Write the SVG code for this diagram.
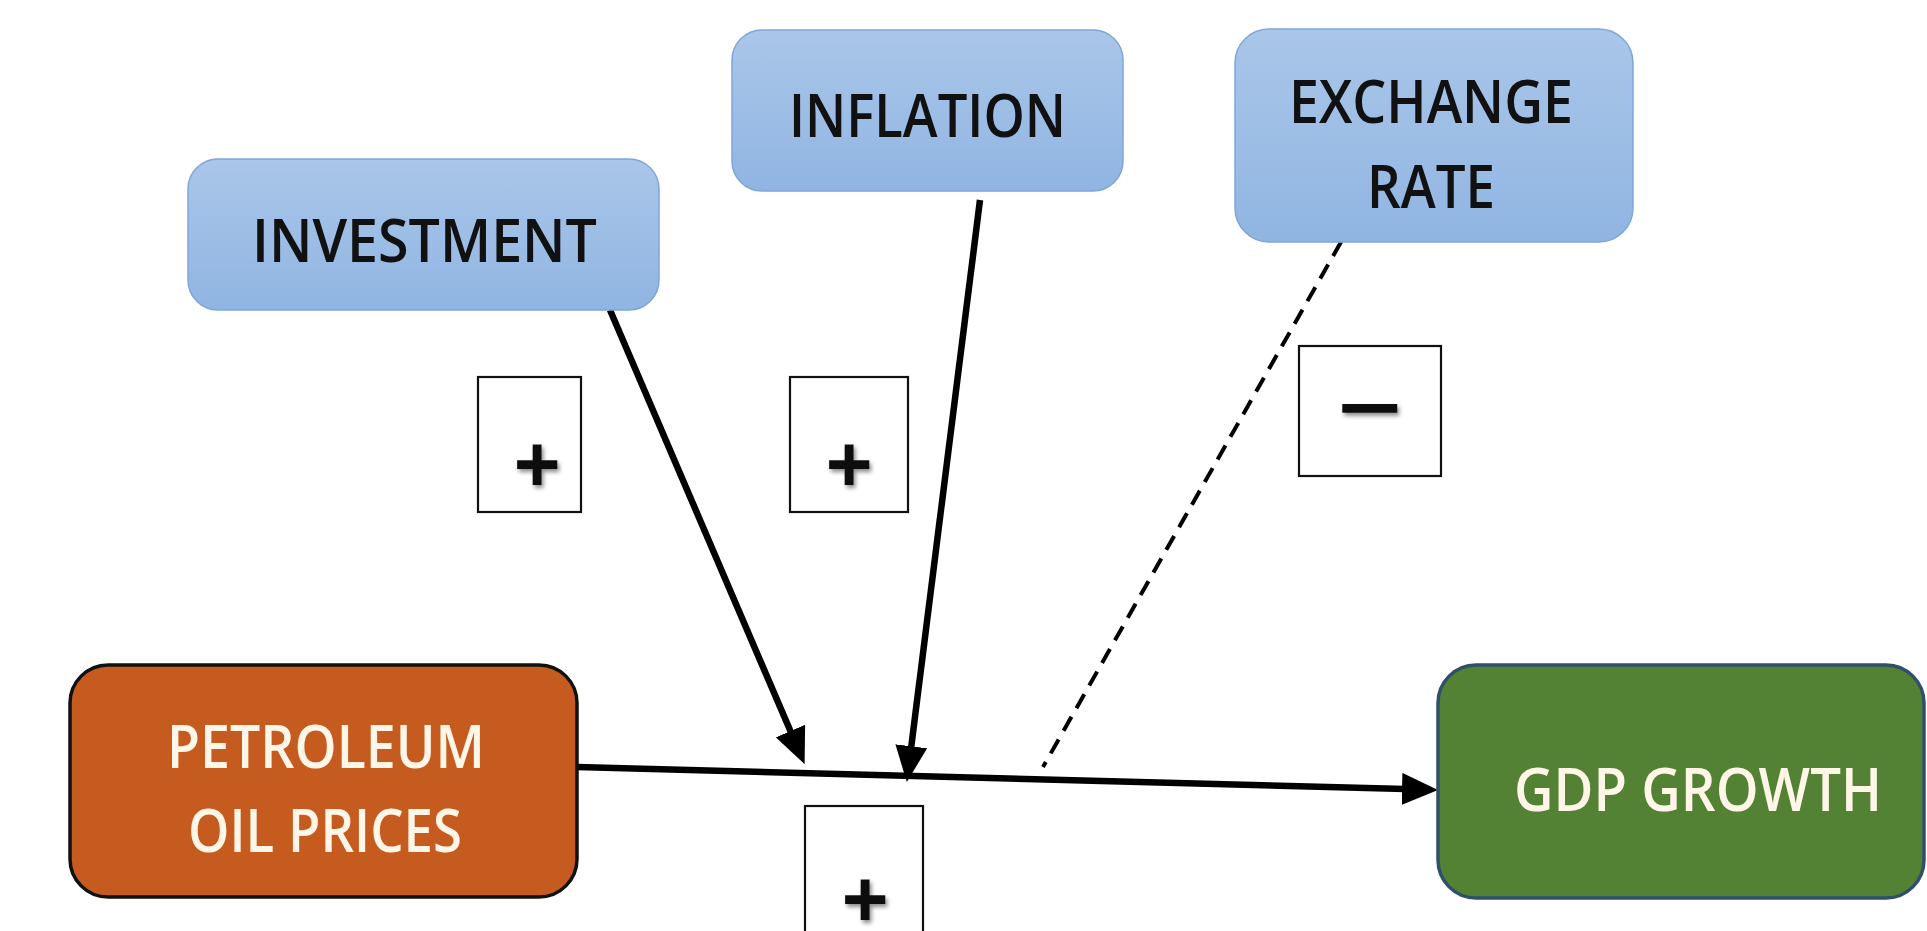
<svg xmlns="http://www.w3.org/2000/svg" width="1927" height="931" viewBox="0 0 1927 931">
<style>
.blue{fill:url(#blueGrad);stroke:#7EA6D8;stroke-width:1.5}
.lbl{font-family:"Open Sans","Liberation Sans",sans-serif;font-size:60px;font-weight:600;text-anchor:middle}
.dark{fill:#111}
.light{fill:#FFF6E8}
.sign{fill:#fff;stroke:#111;stroke-width:2.2}
.sym{font-family:"Liberation Sans",Arial,sans-serif;font-weight:bold;font-size:80px;text-anchor:middle;fill:#111;filter:url(#shadow)}
.con{stroke:#000;stroke-width:6.5;fill:none}
</style>
<defs>
<linearGradient id="blueGrad" x1="0" y1="0" x2="0" y2="1">
<stop offset="0" stop-color="#AAC6E9"/>
<stop offset="1" stop-color="#90B5E2"/>
</linearGradient>
<marker id="arrow" viewBox="0 0 36 32" refX="3" refY="16" markerWidth="36" markerHeight="32" markerUnits="userSpaceOnUse" orient="auto">
<path d="M0,0 L36,16 L0,32 z" fill="#000"/>
</marker>
<filter id="shadow" x="-50%" y="-50%" width="200%" height="200%">
<feDropShadow dx="2" dy="3" stdDeviation="2" flood-color="#000" flood-opacity="0.45"/>
</filter>
</defs>
<rect width="1927" height="931" fill="#fff"/>

<g id="connectors">
<line class="con" x1="577" y1="767" x2="1405" y2="789" marker-end="url(#arrow)"/>
<line class="con" x1="610" y1="310" x2="791.6" y2="733.8" marker-end="url(#arrow)"/>
<line class="con" x1="980" y1="200" x2="910.9" y2="749.3" marker-end="url(#arrow)"/>
<line x1="1341" y1="242" x2="1043" y2="767" stroke="#000" stroke-width="4" stroke-dasharray="16 10"/>
</g>

<g id="investment">
<rect class="blue" x="188" y="159" width="471" height="151" rx="30"/>
<text class="lbl dark" x="424.5" y="262" textLength="345" lengthAdjust="spacingAndGlyphs">INVESTMENT</text>
</g>

<g id="inflation">
<rect class="blue" x="732" y="30" width="391" height="161" rx="30"/>
<text class="lbl dark" x="927.5" y="137" textLength="277" lengthAdjust="spacingAndGlyphs">INFLATION</text>
</g>

<g id="exchange-rate">
<rect class="blue" x="1235" y="29" width="398" height="213" rx="34"/>
<text class="lbl dark" x="1431" y="123" textLength="284" lengthAdjust="spacingAndGlyphs">EXCHANGE</text>
<text class="lbl dark" x="1431" y="208" textLength="128" lengthAdjust="spacingAndGlyphs">RATE</text>
</g>

<g id="petroleum-oil-prices">
<rect x="70" y="665" width="507" height="232" rx="38" fill="#C55B1F" stroke="#111" stroke-width="3.5"/>
<text class="lbl light" x="326" y="768" textLength="318" lengthAdjust="spacingAndGlyphs">PETROLEUM</text>
<text class="lbl light" x="325" y="852" textLength="274" lengthAdjust="spacingAndGlyphs">OIL PRICES</text>
</g>

<g id="gdp-growth">
<rect x="1438" y="665" width="486" height="233" rx="38" fill="#548235" stroke="#2F4F6A" stroke-width="3.5"/>
<text class="lbl light" x="1698" y="811" textLength="368" lengthAdjust="spacingAndGlyphs">GDP GROWTH</text>
</g>

<g id="sign-investment">
<rect class="sign" x="478" y="377" width="103" height="135"/>
<text class="sym" x="537" y="491">+</text>
</g>

<g id="sign-inflation">
<rect class="sign" x="790" y="377" width="118" height="135"/>
<text class="sym" x="849" y="491">+</text>
</g>

<g id="sign-exchange">
<rect class="sign" x="1299" y="346" width="142" height="130"/>
<text class="sym" x="1370" y="435" textLength="64" lengthAdjust="spacingAndGlyphs">−</text>
</g>

<g id="sign-oil">
<rect class="sign" x="805" y="806" width="118" height="140"/>
<text class="sym" x="865" y="926">+</text>
</g>
</svg>
